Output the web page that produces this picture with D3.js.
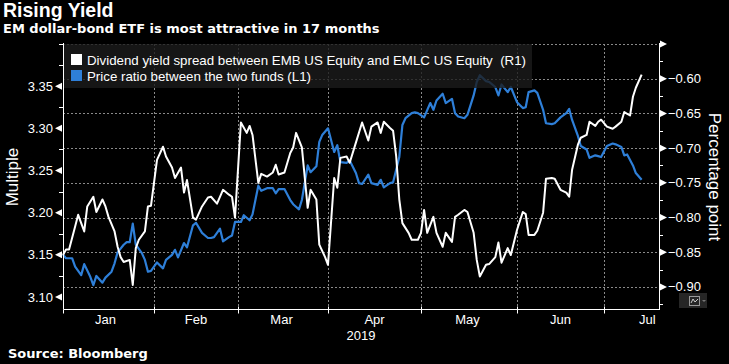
<!DOCTYPE html>
<html><head><meta charset="utf-8">
<script src="https://cdn.jsdelivr.net/npm/d3@7/dist/d3.min.js"></script>
<style>body{margin:0;background:#000;}svg{display:block}</style>
</head><body>
<script>
// ---------- data ----------
const title = "Rising Yield";
const subtitle = "EM dollar-bond ETF is most attractive in 17 months";
const sourceText = "Source: Bloomberg";
const legendLabels = ["Dividend yield spread between EMB US Equity and EMLC US Equity  (R1)",
                      "Price ratio between the two funds (L1)"];
const leftTitle = "Multiple";
const rightTitle = "Percentage point";
const monthLabels = ["Jan","Feb","Mar","Apr","May","Jun","Jul"];
const yearLabel = "2019";
const leftTicks = [3.10,3.15,3.20,3.25,3.30,3.35];
const rightTicks = [-0.90,-0.85,-0.80,-0.75,-0.70,-0.65,-0.60];

// Dividend yield spread (R1), percentage point
const spreadDates = ["01-02","01-03","01-04","01-06","01-07","01-09","01-10","01-12","01-13","01-15","01-16","01-17","01-19","01-20","01-21","01-22","01-24","01-25","01-26","01-27","01-29","01-30","01-31",
"02-02","02-04","02-05","02-07","02-08","02-10","02-11","02-12","02-14","02-15","02-17","02-19","02-20","02-22","02-24","02-26","02-27","02-28",
"03-02","03-04","03-05","03-06","03-08","03-09","03-11","03-13","03-14","03-15","03-17","03-19","03-20","03-21","03-23","03-25","03-26","03-28","03-29","03-31",
"04-01","04-03","04-04","04-05","04-07","04-08","04-10","04-12","04-14","04-15","04-17","04-18","04-19","04-21","04-22","04-23","04-24","04-25","04-27","04-28","04-30",
"05-01","05-02","05-03","05-05","05-06","05-08","05-09","05-11","05-12","05-13","05-15","05-16","05-18","05-19","05-20","05-22","05-23","05-25","05-26","05-27","05-29","05-30",
"06-01","06-03","06-04","06-05","06-07","06-08","06-10","06-11","06-13","06-14","06-16","06-18","06-19","06-20","06-22","06-23","06-25","06-26","06-28","06-29","06-30",
"07-02","07-04","07-05","07-07","07-08","07-10","07-11","07-12","07-14"];
const spreadValues = [-0.854,-0.846,-0.846,-0.813,-0.796,-0.820,-0.784,-0.770,-0.792,-0.774,-0.784,-0.799,-0.820,-0.842,-0.857,-0.864,-0.861,-0.897,-0.844,-0.832,-0.820,-0.784,-0.783,
-0.717,-0.698,-0.712,-0.728,-0.743,-0.728,-0.764,-0.746,-0.800,-0.803,-0.784,-0.771,-0.770,-0.780,-0.760,-0.767,-0.770,-0.800,
-0.663,-0.678,-0.668,-0.681,-0.750,-0.737,-0.741,-0.735,-0.724,-0.738,-0.735,-0.707,-0.699,-0.678,-0.699,-0.786,-0.760,-0.774,-0.839,-0.857,
-0.868,-0.743,-0.757,-0.714,-0.712,-0.721,-0.692,-0.663,-0.689,-0.669,-0.663,-0.678,-0.662,-0.671,-0.675,-0.712,-0.774,-0.808,-0.822,-0.832,-0.832,
-0.822,-0.789,-0.822,-0.799,-0.822,-0.842,-0.822,-0.835,-0.799,-0.796,-0.789,-0.792,-0.822,-0.861,-0.885,-0.868,-0.867,-0.857,-0.836,-0.865,-0.844,-0.854,
-0.818,-0.792,-0.795,-0.825,-0.825,-0.819,-0.793,-0.744,-0.743,-0.744,-0.760,-0.764,-0.770,-0.731,-0.695,-0.685,-0.681,-0.662,-0.668,-0.662,-0.659,
-0.669,-0.672,-0.669,-0.662,-0.648,-0.653,-0.626,-0.613,-0.594];

// Price ratio (L1), multiple
const ratioDates = ["01-02","01-03","01-05","01-06","01-08","01-09","01-11","01-12","01-13","01-15","01-16","01-18","01-19","01-20","01-22","01-23","01-24","01-25","01-26","01-28","01-29","01-30","01-31",
"02-02","02-04","02-05","02-07","02-08","02-09","02-11","02-12","02-14","02-15","02-17","02-19","02-20","02-21","02-23","02-24","02-26","02-27","02-28",
"03-02","03-03","03-05","03-06","03-08","03-09","03-11","03-13","03-14","03-15","03-17","03-19","03-20","03-22","03-23","03-25","03-26","03-28","03-29","03-30",
"04-01","04-03","04-04","04-05","04-07","04-08","04-10","04-11","04-12","04-14","04-15","04-17","04-18","04-19","04-21","04-22","04-24","04-25","04-26","04-28","04-29","04-30",
"05-02","05-04","05-05","05-06","05-08","05-09","05-11","05-12","05-13","05-15","05-16","05-18","05-19","05-20","05-22","05-23","05-25","05-26","05-27","05-29","05-30",
"06-01","06-03","06-04","06-05","06-07","06-08","06-10","06-11","06-13","06-14","06-16","06-18","06-19","06-20","06-22","06-23","06-25","06-26","06-28","06-29","06-30",
"07-02","07-04","07-05","07-07","07-08","07-09","07-11","07-12","07-14"];
const ratioValues = [3.150,3.146,3.146,3.136,3.126,3.139,3.124,3.114,3.125,3.117,3.123,3.130,3.140,3.153,3.162,3.165,3.165,3.187,3.162,3.152,3.144,3.130,3.131,
3.141,3.134,3.144,3.150,3.156,3.147,3.164,3.159,3.185,3.188,3.176,3.170,3.170,3.171,3.181,3.166,3.171,3.173,3.189,
3.189,3.197,3.191,3.198,3.232,3.226,3.229,3.229,3.223,3.228,3.228,3.215,3.210,3.204,3.215,3.256,3.248,3.255,3.284,3.292,
3.300,3.272,3.280,3.260,3.259,3.262,3.247,3.235,3.234,3.245,3.235,3.233,3.239,3.230,3.235,3.236,3.266,3.304,3.312,3.318,3.319,3.318,
3.313,3.330,3.322,3.333,3.341,3.330,3.335,3.318,3.314,3.312,3.316,3.339,3.355,3.363,3.356,3.355,3.349,3.339,3.352,3.343,3.349,
3.331,3.324,3.325,3.343,3.345,3.342,3.322,3.306,3.305,3.306,3.313,3.318,3.323,3.310,3.291,3.279,3.275,3.265,3.268,3.267,3.266,
3.279,3.282,3.281,3.278,3.268,3.269,3.256,3.247,3.239];

// axis breakpoints (month boundaries) of the trading-day axis
const axisDates = ["01-02","02-01","03-01","04-01","05-01","06-01","07-01","07-20"];
const axisFrac = [0, 91, 175, 265, 358, 454, 541, 596].map(v => v / 596);

// ---------- drawing ----------
const W = 729, H = 364, L = 63, R = 659, T = 44, B = 309;
const parse = d3.timeParse("%Y-%m-%d");
const pd = s => parse("2019-" + s);
const font = "'Liberation Sans', Arial, sans-serif";
const boldWide = "'DejaVu Sans', Verdana, sans-serif";

const svg = d3.select("body").append("svg").attr("width", W).attr("height", H)
  .style("background", "#000").style("font-family", font);

const x = d3.scaleTime().domain(axisDates.map(pd)).range(axisFrac.map(f => L + f * (R - L)));
const yL = d3.scaleLinear().domain([3.0858, 3.40]).range([B, T]);
const yR = d3.scaleLinear().domain([-0.9317, -0.55]).range([B, T]);
const px = v => Math.round(v) + 0.5;

// titles
svg.append("text").attr("x", 3).attr("y", 16.5).text(title)
  .attr("fill", "#fff").attr("font-size", 19.5).attr("font-weight", "bold");
svg.append("text").attr("x", 3).attr("y", 33).text(subtitle)
  .attr("fill", "#fff").attr("font-size", 13).attr("font-weight", "bold").style("font-family", boldWide);
svg.append("text").attr("x", 8).attr("y", 358).text(sourceText)
  .attr("fill", "#fff").attr("font-size", 13).attr("font-weight", "bold").style("font-family", boldWide);

// grid
const grid = svg.append("g").attr("stroke", "#8a8a8a").attr("stroke-dasharray", "2,2").attr("stroke-width", 1);
grid.selectAll("line.h").data(rightTicks.concat([-0.55])).join("line").attr("class", "h")
  .attr("x1", L).attr("x2", R).attr("y1", d => px(yR(d))).attr("y2", d => px(yR(d)));
const monthBounds = axisDates.slice(1, 7).map(pd);
grid.selectAll("line.v").data(monthBounds).join("line").attr("class", "v")
  .attr("y1", T).attr("y2", B).attr("x1", d => px(x(d))).attr("x2", d => px(x(d)));

// series
const spread = spreadDates.map((d, i) => ({ date: pd(d), v: spreadValues[i] }));
const ratio = ratioDates.map((d, i) => ({ date: pd(d), v: ratioValues[i] }));
svg.append("path").datum(ratio)
  .attr("d", d3.line().x(d => x(d.date)).y(d => yL(d.v)))
  .attr("fill", "none").attr("stroke", "#2e7fd8").attr("stroke-width", 2.2).attr("stroke-linejoin", "round");
svg.append("path").datum(spread)
  .attr("d", d3.line().x(d => x(d.date)).y(d => yR(d.v)))
  .attr("fill", "none").attr("stroke", "#ffffff").attr("stroke-width", 2).attr("stroke-linejoin", "round");

// legend
svg.append("rect").attr("x", L).attr("y", T).attr("width", 469).attr("height", 44)
  .attr("fill", "#1c1c1c").attr("opacity", 0.8);
const legColors = ["#ffffff", "#2e7fd8"];
const leg = svg.append("g").selectAll("g").data(legendLabels).join("g")
  .attr("transform", (d, i) => `translate(71,${54 + i * 16})`);
leg.append("rect").attr("width", 11).attr("height", 11).attr("fill", (d, i) => legColors[i]);
leg.append("text").attr("x", 16).attr("y", 10.5).text(d => d).style("white-space", "pre")
  .attr("fill", "#fff").attr("font-size", 13.3);

// axis lines
const ax = svg.append("g").attr("stroke", "#fff").attr("stroke-width", 1);
ax.append("line").attr("x1", px(L)).attr("x2", px(L)).attr("y1", T - 1).attr("y2", px(B));
ax.append("line").attr("x1", px(R)).attr("x2", px(R)).attr("y1", T - 1).attr("y2", px(B));
ax.append("line").attr("x1", px(L)).attr("x2", px(R) + 0.5).attr("y1", px(B)).attr("y2", px(B));

// x ticks at month boundaries
ax.selectAll("line.xt").data(monthBounds).join("line").attr("class", "xt")
  .attr("x1", d => px(x(d))).attr("x2", d => px(x(d))).attr("y1", px(B) - 3).attr("y2", px(B) + 4);
ax.append("line").attr("x1", px(L)).attr("x2", px(L)).attr("y1", px(B)).attr("y2", px(B) + 4);

// month labels at mid-month
const monthMid = monthLabels.map((m, i) => d3.timeDay.offset(new Date(2019, i, 1), i === 1 ? 14 : 15));
svg.append("g").selectAll("text").data(monthLabels).join("text")
  .attr("x", (d, i) => x(monthMid[i])).attr("y", 324).attr("text-anchor", "middle")
  .text(d => d).attr("fill", "#fff").attr("font-size", 13);
svg.append("text").attr("x", (L + R) / 2).attr("y", 340).attr("text-anchor", "middle")
  .text(yearLabel).attr("fill", "#fff").attr("font-size", 13);

// left axis ticks
const lMajor = leftTicks;
const lMinor = d3.range(3.125, 3.40, 0.05);
svg.append("g").selectAll("path").data(lMajor).join("path")
  .attr("d", d => { const y = yL(d); return `M${L - 8},${y} L${L - 1},${y - 3.5} L${L - 1},${y + 3.5} Z`; })
  .attr("fill", "#fff");
ax.selectAll("line.lm").data(lMinor.concat([3.40])).join("line").attr("class", "lm")
  .attr("x1", L - 4).attr("x2", L).attr("y1", d => px(yL(d))).attr("y2", d => px(yL(d)));
svg.append("g").selectAll("text").data(lMajor).join("text")
  .attr("x", L - 10).attr("y", d => yL(d) + 4.5).attr("text-anchor", "end")
  .text(d => d3.format(".2f")(d)).attr("fill", "#fff").attr("font-size", 13);

// right axis ticks
const rMajor = rightTicks.concat([-0.55]);
const rMinor = d3.range(-0.925, -0.56, 0.05);
svg.append("g").selectAll("path").data(rMajor).join("path")
  .attr("d", d => { const y = yR(d); return `M${R + 8},${y} L${R + 1},${y - 3.5} L${R + 1},${y + 3.5} Z`; })
  .attr("fill", "#fff");
ax.selectAll("line.rm").data(rMinor).join("line").attr("class", "rm")
  .attr("x1", R).attr("x2", R + 4).attr("y1", d => px(yR(d))).attr("y2", d => px(yR(d)));
svg.append("g").selectAll("text").data(rightTicks).join("text")
  .attr("x", R + 9).attr("y", d => yR(d) + 4.5)
  .text(d => d3.format(".2f")(d)).attr("fill", "#fff").attr("font-size", 13);

// axis titles
svg.append("text").attr("transform", `translate(18,177) rotate(-90)`).attr("text-anchor", "middle")
  .text(leftTitle).attr("fill", "#fff").attr("font-size", 17);
svg.append("text").attr("transform", `translate(709,177) rotate(90)`).attr("text-anchor", "middle")
  .text(rightTitle).attr("fill", "#fff").attr("font-size", 17);

// small chart-type widget (bottom right)
const wdg = svg.append("g");
wdg.append("rect").attr("x", 679).attr("y", 293).attr("width", 28).attr("height", 15).attr("fill", "#262626");
wdg.append("rect").attr("x", 689.5).attr("y", 296.5).attr("width", 10).attr("height", 9).attr("fill", "none").attr("stroke", "#999");
wdg.append("path").attr("d", "M691,303 L693,299 L695,302 L698,299").attr("fill", "none").attr("stroke", "#ccc");
wdg.append("path").attr("d", "M702,300 L706,300 L704,302 Z").attr("fill", "#777");
</script>
</body></html>
